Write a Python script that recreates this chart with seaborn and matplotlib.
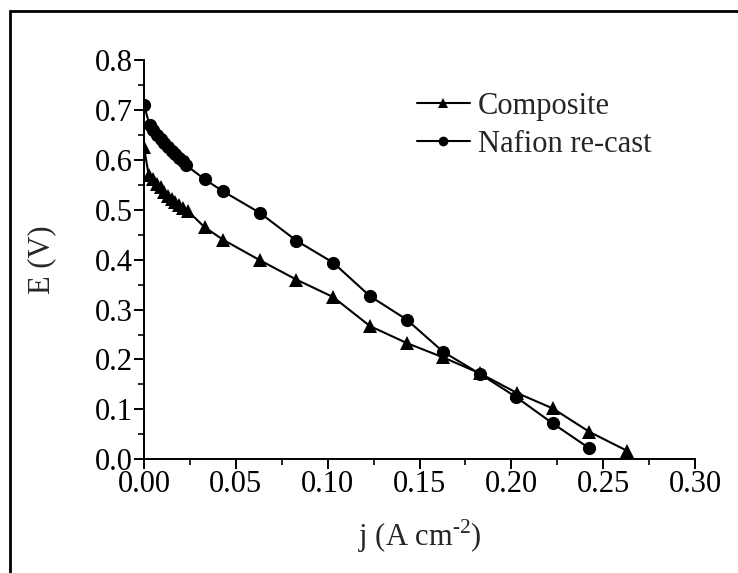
import matplotlib
matplotlib.use("Agg")
import matplotlib.pyplot as plt
import seaborn as sns
import pandas as pd
from matplotlib.patches import Rectangle
from matplotlib.ticker import MultipleLocator, FormatStrFormatter

# Data
j_composite = [0.000, 0.0025, 0.005, 0.007, 0.009, 0.011, 0.013, 0.015, 0.017,
               0.019, 0.021, 0.024, 0.033, 0.043, 0.063, 0.083, 0.103, 0.123,
               0.143, 0.163, 0.183, 0.203, 0.2225, 0.2425, 0.263]
E_composite = [0.625, 0.570, 0.562, 0.552, 0.545, 0.535, 0.528, 0.522, 0.516,
               0.510, 0.503, 0.497, 0.465, 0.440, 0.399, 0.360, 0.325, 0.267,
               0.233, 0.204, 0.172, 0.133, 0.102, 0.055, 0.017]

j_nafion = [0.000, 0.003, 0.005, 0.007, 0.009, 0.011, 0.013, 0.015, 0.017,
            0.019, 0.021, 0.023, 0.033, 0.043, 0.063, 0.083, 0.103, 0.123,
            0.143, 0.163, 0.183, 0.2025, 0.2225, 0.2425]
E_nafion = [0.710, 0.670, 0.660, 0.650, 0.642, 0.634, 0.625, 0.618, 0.611,
            0.604, 0.597, 0.589, 0.561, 0.537, 0.494, 0.438, 0.394, 0.327,
            0.280, 0.215, 0.171, 0.125, 0.072, 0.022]

series_names = ["Composite", "Nafion re-cast"]

df = pd.concat([
    pd.DataFrame({"j": j_composite, "E": E_composite, "series": series_names[0]}),
    pd.DataFrame({"j": j_nafion, "E": E_nafion, "series": series_names[1]}),
], ignore_index=True)

sns.set_style("ticks")
plt.rcParams["font.family"] = ["Liberation Serif", "DejaVu Serif"]
plt.rcParams["mathtext.fontset"] = "custom"
plt.rcParams["mathtext.rm"] = "Liberation Serif"

FS = 22

fig = plt.figure(figsize=(7.38, 5.73), dpi=100)
ax = fig.add_axes([144 / 738, 1 - 459.3 / 573, (695 - 144) / 738, (459.3 - 60) / 573])

sns.lineplot(data=df, x="j", y="E", hue="series", style="series",
             markers={"Composite": "^", "Nafion re-cast": "o"},
             dashes=False, palette={"Composite": "black", "Nafion re-cast": "black"},
             markersize=9.5, markeredgewidth=0, linewidth=1.5,
             sort=False, estimator=None, ax=ax, legend=True)

ax.set_xlim(0, 0.30)
ax.set_ylim(0, 0.8)
ax.xaxis.set_major_locator(MultipleLocator(0.05))
ax.xaxis.set_minor_locator(MultipleLocator(0.025))
ax.yaxis.set_major_locator(MultipleLocator(0.1))
ax.yaxis.set_minor_locator(MultipleLocator(0.05))
ax.xaxis.set_major_formatter(FormatStrFormatter("%.2f"))
ax.yaxis.set_major_formatter(FormatStrFormatter("%.1f"))
ax.tick_params(which="major", direction="out", length=7, width=1.4, labelsize=FS, colors="black", pad=1)
ax.tick_params(which="minor", direction="out", length=4, width=1.4)
for side in ["top", "right"]:
    ax.spines[side].set_visible(False)
for side in ["left", "bottom"]:
    ax.spines[side].set_linewidth(1.4)
    ax.spines[side].set_color("black")

ax.set_xlabel(r"j (A cm$^{\text{-2}}$)", fontsize=FS, labelpad=13)
ax.set_ylabel("E (V)", fontsize=FS, labelpad=28)

leg = ax.legend(loc="upper left", bbox_to_anchor=(0.495, 0.92), frameon=False,
                fontsize=FS, handlelength=1.75, handletextpad=0.25, labelspacing=0.3,
                borderaxespad=0, borderpad=0)
for h in leg.legend_handles:
    h.set_markersize(7)

fig.add_artist(Rectangle((9.5 / 738, -0.1), 1.0, 1.1 - 11 / 573, transform=fig.transFigure,
                         fill=False, edgecolor="black", linewidth=2.0))

fig.savefig("out.png", dpi=100)
